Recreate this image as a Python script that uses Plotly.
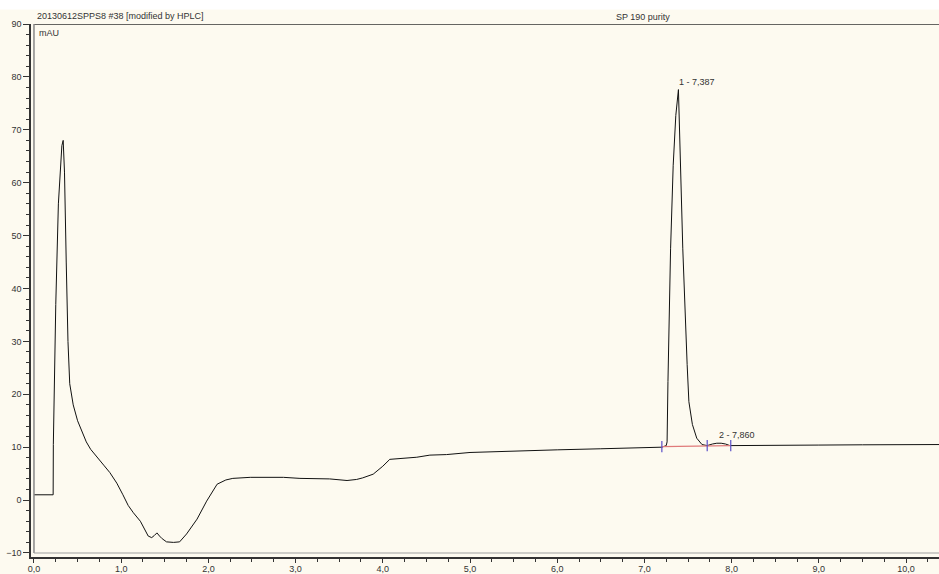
import plotly.graph_objects as go

# Chromatogram signal (retention time in min, absorbance in mAU)
time_min = [0.0, 0.21, 0.22, 0.222, 0.25, 0.28, 0.30, 0.32, 0.335, 0.35, 0.37, 0.39, 0.41, 0.45,
            0.50, 0.55, 0.60, 0.65, 0.72, 0.80, 0.87, 0.95, 1.02, 1.08, 1.14, 1.22, 1.31, 1.35,
            1.38, 1.41, 1.44, 1.47, 1.52, 1.60, 1.67, 1.75, 1.87, 1.98, 2.10, 2.20, 2.28, 2.48,
            2.86, 3.05, 3.39, 3.59, 3.70, 3.77, 3.89, 4.00, 4.08, 4.20, 4.39, 4.54, 4.73, 5.0,
            5.5, 6.0, 6.5, 7.0, 7.2, 7.25, 7.26, 7.27, 7.30, 7.33, 7.36, 7.39, 7.41, 7.44, 7.49,
            7.51, 7.55, 7.60, 7.66, 7.72, 7.78, 7.83, 7.88, 7.93, 7.98, 8.1, 8.5, 9.0, 9.5, 10.0,
            10.38]
signal_mau = [1.0, 1.0, 1.0, 10.5, 37.0, 56.0, 63.0, 67.0, 68.0, 62.0, 45.0, 30.0, 22.0, 18.0,
              15.0, 12.8, 11.0, 9.6, 8.3, 6.6, 5.2, 3.2, 1.0, -1.0, -2.4, -4.0, -6.8, -7.1,
              -6.7, -6.2, -6.8, -7.3, -7.9, -8.0, -7.9, -6.4, -3.6, -0.2, 3.0, 3.8, 4.1, 4.3,
              4.3, 4.1, 4.0, 3.7, 3.9, 4.2, 4.9, 6.4, 7.7, 7.9, 8.1, 8.5, 8.6, 9.0,
              9.3, 9.5, 9.7, 9.9, 10.0, 10.3, 11.0, 22.4, 47.5, 63.3, 72.7, 77.6, 66.3, 47.5, 25.6,
              18.6, 14.3, 11.7, 10.5, 10.3, 10.6, 10.75, 10.75, 10.6, 10.3, 10.3, 10.35, 10.4, 10.45, 10.45,
              10.5]

# Peak integration
bound_t = [7.20, 7.72, 7.99]
bound_mau = [10.1, 10.3, 10.3]
peak_labels = ["1 - 7,387", "2 - 7,860"]
peak_t = [7.387, 7.84]
peak_mau = [77.6, 10.75]

# Axes ticks
x_ticks = [0, 1, 2, 3, 4, 5, 6, 7, 8, 9, 10]
x_ticktext = ["0,0", "1,0", "2,0", "3,0", "4,0", "5,0", "6,0", "7,0", "8,0", "9,0", "10,0"]
y_ticks = [-10, 0, 10, 20, 30, 40, 50, 60, 70, 80, 90]

cream = "#FDFAF0"
font_fam = "Liberation Sans, Arial, sans-serif"
purple = "#5A4FC8"

fig = go.Figure()
fig.add_trace(go.Scatter(x=time_min, y=signal_mau, mode="lines",
                         line=dict(color="#111111", width=1), hoverinfo="skip"))
fig.add_trace(go.Scatter(x=bound_t, y=bound_mau, mode="lines",
                         line=dict(color="#E07A7A", width=1.2), hoverinfo="skip"))
fig.add_trace(go.Scatter(x=bound_t, y=bound_mau, mode="markers",
                         marker=dict(symbol="line-ns-open", size=8, color=purple,
                                     line=dict(color=purple, width=1.2)),
                         hoverinfo="skip"))

for lab, t, v in zip(peak_labels, peak_t, peak_mau):
    fig.add_annotation(x=t, y=v, text=lab, showarrow=False, xanchor="left",
                       yanchor="bottom", yshift=1, xshift=-1,
                       font=dict(family=font_fam, size=9, color="#333333"))

x_min, x_max = -0.034, 10.378
y_min, y_max = -10.76, 90.0

# plot frame lines
fig.add_shape(type="line", xref="x", yref="y", x0=0, x1=x_max, y0=90, y1=90,
              line=dict(color="#333333", width=1.5))
fig.add_shape(type="line", xref="x", yref="y", x0=0, x1=0, y0=-10, y1=90,
              line=dict(color="#888888", width=1.5))
fig.add_shape(type="line", xref="x", yref="y", x0=0, x1=x_max, y0=-10, y1=-10,
              line=dict(color="#A0A0A0", width=1.2))
# white strip at top of page
fig.add_shape(type="rect", xref="paper", yref="paper", x0=-0.05, x1=1.05, y0=1.027, y1=1.06,
              fillcolor="white", line=dict(width=0), layer="below")

fig.add_annotation(xref="paper", yref="paper", x=0.0044, y=1.015, xanchor="left",
                   yanchor="middle", showarrow=False,
                   text="20130612SPPS8 #38 [modified by HPLC]",
                   font=dict(family=font_fam, size=9, color="#333333"))
fig.add_annotation(xref="paper", yref="paper", x=0.674, y=1.0135, xanchor="center",
                   yanchor="middle", showarrow=False, text="SP 190 purity",
                   font=dict(family=font_fam, size=9, color="#333333"))
fig.add_annotation(xref="paper", yref="paper", x=0.0066, y=0.983, xanchor="left",
                   yanchor="middle", showarrow=False, text="mAU",
                   font=dict(family=font_fam, size=9, color="#333333"))

fig.update_layout(
    width=939, height=574,
    margin=dict(l=31, r=0, t=24, b=17, autoexpand=False),
    paper_bgcolor=cream, plot_bgcolor=cream,
    showlegend=False,
    xaxis=dict(range=[x_min, x_max], tickmode="array", tickvals=x_ticks, ticktext=x_ticktext,
               automargin=False,
               showgrid=False, zeroline=False, showline=True, linecolor="#333333", linewidth=1.5,
               ticks="outside", ticklen=4, tickcolor="#333333", tickwidth=1,
               ticklabelstandoff=-2,
               tickfont=dict(family=font_fam, size=9, color="#333333"),
               minor=dict(tick0=0, dtick=0.25, ticks="outside", ticklen=3, tickcolor="#333333",
                          showgrid=False)),
    yaxis=dict(range=[y_min, y_max], tickmode="array", tickvals=y_ticks,
               automargin=False,
               showgrid=False, zeroline=False, showline=True, linecolor="#333333", linewidth=1.5,
               ticks="outside", ticklen=6, tickcolor="#333333", tickwidth=1,
               tickfont=dict(family=font_fam, size=9, color="#333333"),
               minor=dict(tick0=0, dtick=2, ticks="outside", ticklen=3, tickcolor="#333333",
                          showgrid=False)),
)

fig.write_html("out.html", config={"displayModeBar": False},
               post_script="document.body.style.margin='0px';document.body.style.overflow='hidden';")
